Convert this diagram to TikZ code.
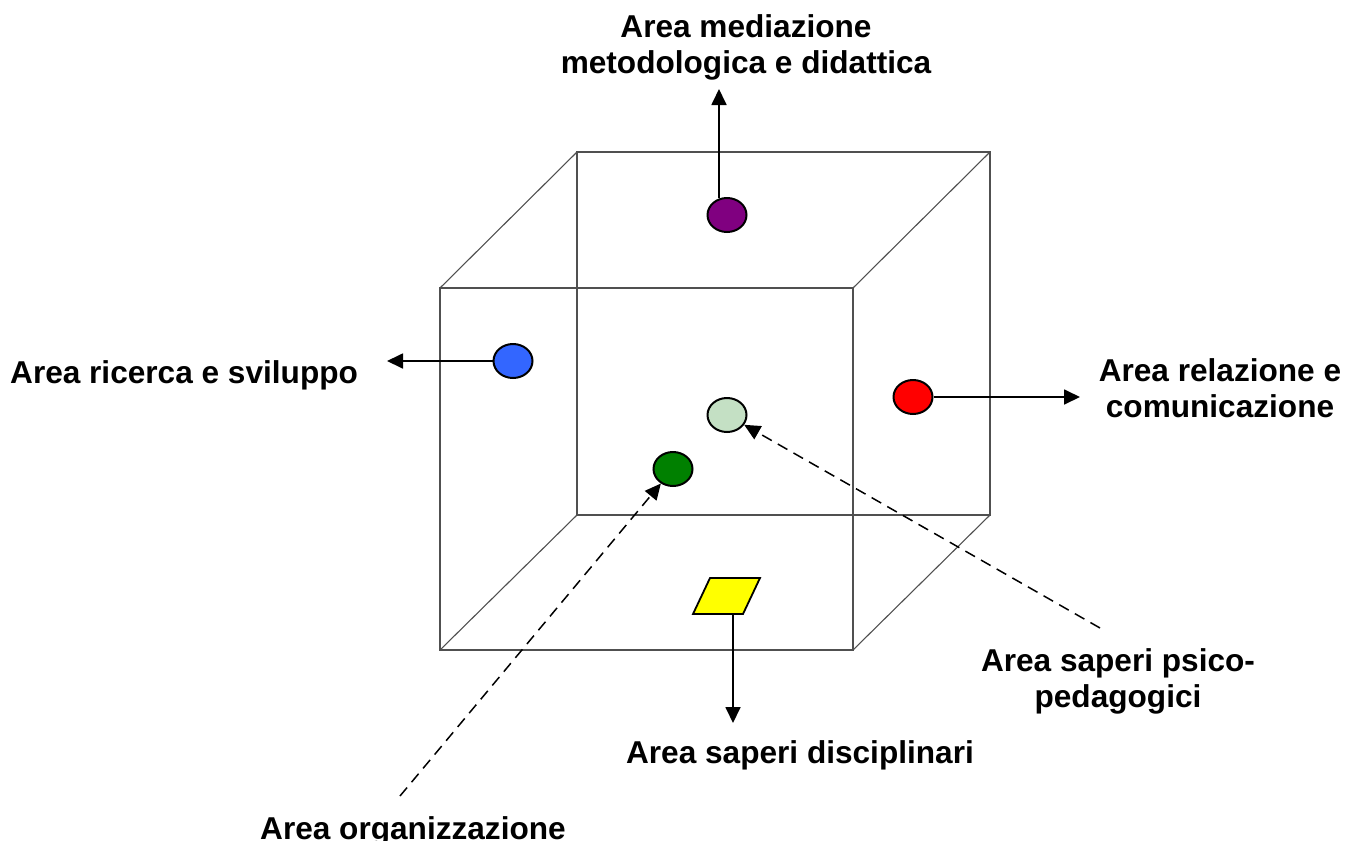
\documentclass[tikz,border=0pt]{standalone}
\usepackage{fontspec}
\setmainfont{Liberation Sans}
\usetikzlibrary{arrows.meta,shapes.geometric}
\definecolor{cubegray}{HTML}{505050}
\definecolor{dotpurple}{HTML}{800080}
\definecolor{dotblue}{HTML}{3366FF}
\definecolor{dotred}{HTML}{FF0000}
\definecolor{dotlight}{HTML}{C4E0C4}
\definecolor{dotgreen}{HTML}{008000}
\definecolor{dotyellow}{HTML}{FFFF00}
\tikzset{
  cubeedge/.style={draw=cubegray, line width=1.1pt},
  dot/.style={ellipse, draw=black, line width=2pt, minimum width=39pt, minimum height=34pt, inner sep=0pt},
  solidarrow/.style={draw=black, line width=1.8pt, -{Triangle[length=16pt,width=15pt]}},
  dasharrow/.style={draw=black, line width=1.5pt, dash pattern=on 11pt off 7pt, -{Triangle[length=16pt,width=15pt]}},
  lbl/.style={font=\fontsize{31.6}{36}\selectfont\bfseries, inner sep=0pt, align=center}
}
\begin{document}
\begin{tikzpicture}[x=1pt,y=-1pt]
\useasboundingbox (0,0) rectangle (1361,841);
% cube
\coordinate (FTL) at (440,288);
\coordinate (FTR) at (853,288);
\coordinate (FBR) at (853,650);
\coordinate (FBL) at (440,650);
\coordinate (BTL) at (577,152);
\coordinate (BTR) at (990,152);
\coordinate (BBR) at (990,515);
\coordinate (BBL) at (577,515);
\draw[cubeedge] (FTL) -- (FTR) -- (FBR) -- (FBL) -- cycle;
\draw[cubeedge] (BTL) -- (BTR) -- (BBR) -- (BBL) -- cycle;
\draw[cubeedge] (FTL) -- (BTL);
\draw[cubeedge] (FTR) -- (BTR);
\draw[cubeedge] (FBR) -- (BBR);
\draw[cubeedge] (FBL) -- (BBL);
% dots
\node[dot, fill=dotpurple] (purple) at (727,215) {};
\node[dot, fill=dotblue] (blue) at (513,361) {};
\node[dot, fill=dotred] (red) at (913,397) {};
\node[dot, fill=dotlight] (light) at (727,415) {};
\node[dot, fill=dotgreen] (green) at (673,469) {};
\draw[fill=dotyellow, draw=black, line width=1.8pt, line join=miter] (710,578) -- (760,578) -- (743,614) -- (693,614) -- cycle;
\coordinate (yellow) at (733,614);
% labels
\node[lbl, anchor=base] (lblMed) at (746,73) {Area mediazione\\metodologica e didattica};
\node[lbl, anchor=base west] (lblRic) at (10,383) {Area ricerca e sviluppo};
\node[lbl, anchor=base] (lblRel) at (1220,417) {Area relazione e\\comunicazione};
\node[lbl, anchor=base] (lblPsi) at (1118,707) {Area saperi psico-\\pedagogici};
\node[lbl, anchor=base] (lblDis) at (800,763) {Area saperi disciplinari};
\node[lbl, anchor=base] (lblOrg) at (413,839) {Area organizzazione};
% arrow ends
\coordinate (medTip) at (719,89);
\coordinate (medStart) at (719,198);
\coordinate (ricTip) at (387,361);
\coordinate (relTip) at (1080,397);
\coordinate (disTip) at (733,723);
\coordinate (psiStart) at (1100,628);
\coordinate (orgStart) at (400,796);
% arrows
\draw[solidarrow] (medStart) -- (medTip);
\draw[solidarrow] (blue.west) -- (ricTip);
\draw[solidarrow] (red.east) -- (relTip);
\draw[solidarrow] (yellow) -- (disTip);
\draw[dasharrow] (psiStart) -- (light);
\draw[dasharrow] (orgStart) -- (green);
\end{tikzpicture}
\end{document}
